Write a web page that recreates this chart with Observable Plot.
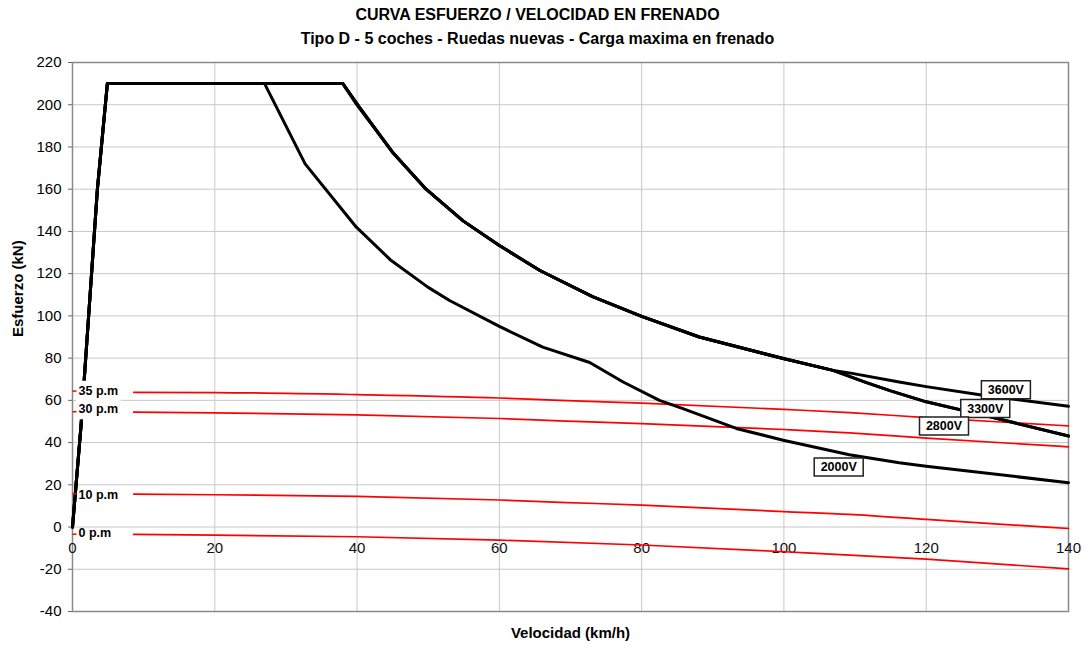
<!DOCTYPE html>
<html>
<head>
<meta charset="utf-8">
<script src="https://cdn.jsdelivr.net/npm/d3@7"></script>
<script src="https://cdn.jsdelivr.net/npm/@observablehq/plot@0.6"></script>
<style>
  body { margin: 0; background: #fff; font-family: "Liberation Sans", Arial, sans-serif; }
  #head { position: relative; height: 50px; width: 1085px; font-weight: bold; font-size: 16px; color: #000; }
  #head div { position: absolute; left: 0; width: 1075px; text-align: center; line-height: 18px; }
</style>
</head>
<body>
<div id="head">
  <div style="top:6px">CURVA ESFUERZO / VELOCIDAD EN FRENADO</div>
  <div style="top:30px">Tipo D - 5 coches - Ruedas nuevas - Carga maxima en frenado</div>
</div>
<div id="chart"></div>
<script>
// ---- data ----
const xTicks = [0, 20, 40, 60, 80, 100, 120, 140];
const yTicks = [-40, -20, 0, 20, 40, 60, 80, 100, 120, 140, 160, 180, 200, 220];

// black curves: speed (km/h) and effort (kN)
const v2000X = [0, 1.2, 3.5, 4.9, 27, 32.7, 39.9, 44.8, 50, 53, 60, 66.1, 72.7, 77.4, 82.5, 85.8, 93.3, 99.9, 109.2, 116.2, 120, 140];
const v2000Y = [0, 48, 160, 210, 210, 172, 142, 126.2, 113.5, 107.3, 95, 85.2, 77.9, 68.7, 60, 56.1, 46.7, 41.1, 34.2, 30.4, 28.8, 21];

const v2800X = [0, 1.2, 3.5, 4.9, 38, 40.3, 45.1, 49.7, 54.9, 60, 65.7, 73.1, 80, 88.1, 99.9, 106.9, 111.5, 115, 120, 128, 140];
const v2800Y = [0, 48, 160, 210, 210, 199, 177, 160, 145, 133.3, 121.5, 109.1, 99.8, 90, 79.8, 74.2, 68.5, 64.5, 59.3, 53, 43.1];

const v3300X = [0, 1.2, 3.5, 4.9, 38, 40.3, 45.1, 49.7, 54.9, 60, 65.7, 73.1, 80, 88.1, 99.9, 106.9, 111.5, 115, 120, 128, 140];
const v3300Y = [0, 48, 160, 210, 210, 199, 177, 160, 145, 133.3, 121.5, 109.1, 99.8, 90, 79.8, 74.2, 68.5, 64.5, 59.3, 53, 43.1];

const v3600X = [0, 1.2, 3.5, 4.9, 38, 39.9, 45, 49.7, 54.9, 60, 65.7, 73.1, 80, 88.1, 99.9, 106.9, 109.2, 116.2, 120, 128, 140];
const v3600Y = [0, 48, 160, 210, 210, 200.3, 177.5, 160, 145, 133.3, 121.5, 109.1, 99.8, 90, 79.8, 74.2, 73, 68.7, 66.5, 62.4, 57.2];

// red curves (gradient, p.m)
const pm35X = [8.6, 20, 40, 60, 68.5, 80, 100, 109.2, 120, 140];
const pm35Y = [63.8, 63.7, 62.7, 61.1, 60, 58.7, 55.7, 54.2, 51.8, 47.9];
const pm30X = [8.6, 20, 40, 60, 68.5, 80, 100, 109.2, 120, 140];
const pm30Y = [54.4, 54.1, 53.1, 51.4, 50.3, 49, 46.2, 44.6, 42.1, 38];
const pm10X = [8.6, 20, 40, 60, 68.5, 80, 100, 109.2, 120, 140];
const pm10Y = [15.6, 15.3, 14.5, 12.8, 11.7, 10.4, 7.3, 6, 3.6, -0.7];
const pm0X = [8.6, 20, 40, 60, 80, 100, 120, 140];
const pm0Y = [-3.5, -3.8, -4.6, -6.2, -8.5, -11.7, -15.2, -19.8];

// left labels of red curves
const pmNames = ["35 p.m", "30 p.m", "10 p.m", "0 p.m"];
const pmStart = [64.4, 54.6, 15.8, -3.4];
const pmLabelY = [64.6, 55.8, 15.1, -2.8];

// voltage labels
const vNames = ["3600V", "3300V", "2800V", "2000V"];
const vLabelX = [131.2, 128.3, 122.5, 107.7];
const vLabelY = [65.0, 56.1, 47.8, 28.4];

// ---- build tables ----
const rows = (name, xs, ys) => xs.map((x, i) => ({series: name, x, y: ys[i]}));
const blackRows = [
  ...rows("2000V", v2000X, v2000Y),
  ...rows("2800V", v2800X, v2800Y),
  ...rows("3300V", v3300X, v3300Y),
  ...rows("3600V", v3600X, v3600Y)
];
const redRows = [
  ...rows("35 p.m", pm35X, pm35Y),
  ...rows("30 p.m", pm30X, pm30Y),
  ...rows("10 p.m", pm10X, pm10Y),
  ...rows("0 p.m", pm0X, pm0Y)
];
const pmRows = pmNames.map((n, i) => ({name: n, start: pmStart[i], ly: pmLabelY[i]}));
const vRows = vNames.map((n, i) => ({name: n, x: vLabelX[i], y: vLabelY[i]}));

const boxSymbol = {draw(ctx) { ctx.rect(-24.5, -9, 49, 18); }};
const leftBox = {draw(ctx) { ctx.rect(4, -10, 44, 20); }};
const dashSymbol = {draw(ctx) { ctx.moveTo(0, 0); ctx.lineTo(4, 0); }};

const chart = Plot.plot({
  width: 1085,
  height: 601,
  marginLeft: 72,
  marginRight: 17,
  marginTop: 12,
  marginBottom: 40,
  x: {domain: [0, 140], axis: null},
  y: {domain: [-40, 220], axis: null},
  style: {fontFamily: "'Liberation Sans', Arial, sans-serif", fontSize: "15px", color: "#000", background: "#fff"},
  marks: [
    Plot.gridX(xTicks, {stroke: "#c8c8c8", strokeOpacity: 1}),
    Plot.gridY(yTicks, {stroke: "#c8c8c8", strokeOpacity: 1}),
    Plot.frame({stroke: "#8a8a8a", strokeWidth: 1.5}),
    Plot.axisY(yTicks, {tickSize: 4, tickPadding: 7, fontSize: 15, label: null, stroke: "#666", tickFormat: d => String(d)}),
    Plot.text(xTicks, {x: d => d, y: 0, dy: 21, text: d => String(d), fontSize: 15, fill: "#111"}),
    Plot.line(redRows, {x: "x", y: "y", z: "series", stroke: "#ff0000", strokeWidth: 1.7, curve: "monotone-x"}),
    Plot.line(blackRows, {x: "x", y: "y", z: "series", stroke: "#000", strokeWidth: 3, strokeLinejoin: "round"}),
    // left labels of red curves
    Plot.dot(pmRows.slice(0, 2), {x: () => 0, y: "ly", symbol: leftBox, fill: "#fff", stroke: "none"}),
    Plot.text(pmRows, {x: () => 0, y: "ly", text: "name", dx: 6, textAnchor: "start", fontWeight: "bold", fontSize: 12.5, fill: "#000"}),
    Plot.dot(pmRows, {x: () => 0, y: "start", symbol: dashSymbol, stroke: "#ff0000", strokeWidth: 1.5, fill: "none"}),
    // voltage labels
    Plot.dot(vRows, {x: "x", y: "y", symbol: boxSymbol, fill: "#fff", stroke: "#222", strokeWidth: 1.5}),
    Plot.text(vRows, {x: "x", y: "y", text: "name", fontWeight: "bold", fontSize: 12.5, fill: "#000"}),
    // axis titles
    Plot.text(["Esfuerzo (kN)"], {frameAnchor: "left", dx: -54, rotate: -90, text: d => d, fontWeight: "bold", fontSize: 15}),
    Plot.text(["Velocidad (km/h)"], {frameAnchor: "bottom", dy: 26, text: d => d, fontWeight: "bold", fontSize: 15})
  ]
});
document.getElementById("chart").appendChild(chart);
</script>
</body>
</html>
